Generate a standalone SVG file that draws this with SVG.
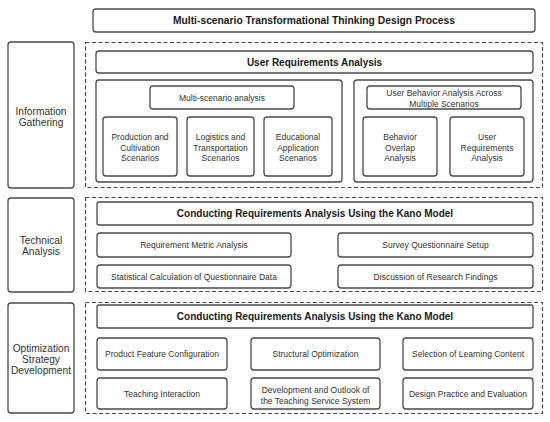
<svg xmlns="http://www.w3.org/2000/svg" width="550" height="422" viewBox="0 0 550 422">
<style>
.b{fill:#fff;stroke:#4a4a4a;stroke-width:1.3}
.d{fill:none;stroke:#4a4a4a;stroke-width:1.2;stroke-dasharray:4 2.5}
.h{font-family:"Liberation Sans",Arial,sans-serif;font-size:10px;font-weight:bold;fill:#1a1a1a;text-anchor:middle}
.t{font-family:"Liberation Sans",Arial,sans-serif;font-size:8.5px;fill:#333;text-anchor:middle}
.l{font-family:"Liberation Sans",Arial,sans-serif;font-size:10.2px;fill:#333;text-anchor:middle}
</style>
<rect width="550" height="422" fill="#fff"/>
<g id="title"><rect class="b" x="93" y="9" width="442" height="23" rx="3"/><text class="h" x="314" y="24" style="font-size:10.3px">Multi-scenario Transformational Thinking Design Process</text></g>

<g id="info-gathering"><rect class="b" x="8" y="42" width="66" height="146" rx="3"/><text class="l" x="41" y="114.5">Information</text><text class="l" x="41" y="125.5">Gathering</text></g>
<g id="stage1"><rect class="d" x="85.5" y="42.5" width="457" height="145"/></g>
<g id="user-req"><rect class="b" x="96" y="51" width="437" height="22" rx="3"/><text class="h" x="314.5" y="65.5">User Requirements Analysis</text></g>
<g id="left-group"><rect class="b" x="96" y="80" width="246" height="102" rx="3"/></g>
<g id="multi-scenario"><rect class="b" x="150" y="86" width="144" height="23" rx="3"/><text class="t" x="222" y="100.5">Multi-scenario analysis</text></g>
<g id="production"><rect class="b" x="103" y="117" width="74" height="59" rx="3"/><text class="t" x="140" y="140">Production and</text><text class="t" x="140" y="150.5">Cultivation</text><text class="t" x="140" y="161">Scenarios</text></g>
<g id="logistics"><rect class="b" x="187" y="117" width="67" height="59" rx="3"/><text class="t" x="220.5" y="140">Logistics and</text><text class="t" x="220.5" y="150.5">Transportation</text><text class="t" x="220.5" y="161">Scenarios</text></g>
<g id="educational"><rect class="b" x="264" y="117" width="68" height="59" rx="3"/><text class="t" x="298" y="140">Educational</text><text class="t" x="298" y="150.5">Application</text><text class="t" x="298" y="161">Scenarios</text></g>
<g id="right-group"><rect class="b" x="354" y="80" width="179" height="102" rx="3"/></g>
<g id="behavior-across"><rect class="b" x="367" y="86" width="154" height="23" rx="3"/><text class="t" x="444" y="95.5">User Behavior Analysis Across</text><text class="t" x="444" y="106.5">Multiple Scenarios</text></g>
<g id="behavior-overlap"><rect class="b" x="363" y="117" width="74" height="59" rx="3"/><text class="t" x="400" y="140">Behavior</text><text class="t" x="400" y="150.5">Overlap</text><text class="t" x="400" y="161">Analysis</text></g>
<g id="user-req-analysis"><rect class="b" x="450" y="117" width="74" height="59" rx="3"/><text class="t" x="487" y="140">User</text><text class="t" x="487" y="150.5">Requirements</text><text class="t" x="487" y="161">Analysis</text></g>

<g id="technical"><rect class="b" x="8" y="198" width="66" height="94" rx="3"/><text class="l" x="41" y="243.5">Technical</text><text class="l" x="41" y="254.5">Analysis</text></g>
<g id="stage2"><rect class="d" x="85.5" y="197.5" width="457" height="94"/></g>
<g id="kano1"><rect class="b" x="97" y="202" width="436" height="23" rx="2"/><text class="h" x="315" y="217">Conducting Requirements Analysis Using the Kano Model</text></g>
<g id="metric"><rect class="b" x="97" y="233" width="194" height="24" rx="3"/><text class="t" x="194" y="248">Requirement Metric Analysis</text></g>
<g id="statistical"><rect class="b" x="97" y="265" width="194" height="23" rx="3"/><text class="t" x="194" y="279.5">Statistical Calculation of Questionnaire Data</text></g>
<g id="survey"><rect class="b" x="338" y="233" width="195" height="24" rx="3"/><text class="t" x="435.5" y="248">Survey Questionnaire Setup</text></g>
<g id="discussion"><rect class="b" x="338" y="265" width="195" height="23" rx="3"/><text class="t" x="435.5" y="279.5">Discussion of Research Findings</text></g>

<g id="optimization"><rect class="b" x="8" y="303" width="66" height="110" rx="3"/><text class="l" x="41" y="351.5">Optimization</text><text class="l" x="41" y="362.5">Strategy</text><text class="l" x="41" y="373.5">Development</text></g>
<g id="stage3"><rect class="d" x="85.5" y="302.5" width="457" height="111"/></g>
<g id="kano2"><rect class="b" x="97" y="305" width="436" height="23" rx="2"/><text class="h" x="315" y="320">Conducting Requirements Analysis Using the Kano Model</text></g>
<g id="product-feature"><rect class="b" x="97" y="338" width="130" height="32" rx="3"/><text class="t" x="162" y="357">Product Feature Configuration</text></g>
<g id="structural"><rect class="b" x="251" y="338" width="129" height="32" rx="3"/><text class="t" x="315.5" y="357">Structural Optimization</text></g>
<g id="selection"><rect class="b" x="403" y="338" width="130" height="32" rx="3"/><text class="t" x="468" y="357">Selection of Learning Content</text></g>
<g id="teaching-interaction"><rect class="b" x="97" y="378" width="130" height="31" rx="3"/><text class="t" x="162" y="396.5">Teaching Interaction</text></g>
<g id="development"><rect class="b" x="251" y="378" width="129" height="31" rx="3"/><text class="t" x="315.5" y="393">Development and Outlook of</text><text class="t" x="315.5" y="404">the Teaching Service System</text></g>
<g id="design-practice"><rect class="b" x="403" y="378" width="130" height="31" rx="3"/><text class="t" x="468" y="396.5">Design Practice and Evaluation</text></g>
<g id="connectors"/>
</svg>
